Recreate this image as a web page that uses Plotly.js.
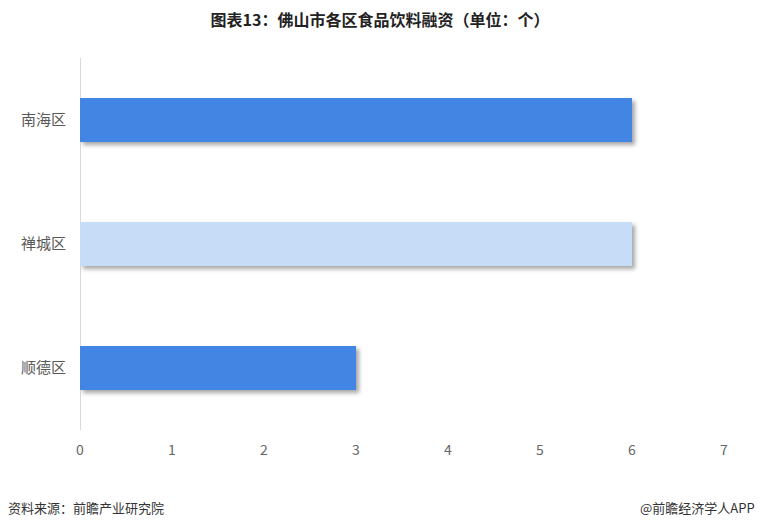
<!DOCTYPE html>
<html><head><meta charset="utf-8">
<script src="https://cdn.plot.ly/plotly-3.0.1.min.js"></script>
<style>html,body{margin:0;padding:0;background:#fff;}#chart{width:760px;height:527px;}</style>
</head><body><div id="chart"></div>
<script>
const categories = ['南海区', '禅城区', '顺德区'];
const values = [6, 6, 3];
const barColors = ['#4285e2', '#c6dcf7', '#4285e2'];
const xTicks = [0, 1, 2, 3, 4, 5, 6, 7];
const titleText = '图表13：佛山市各区食品饮料融资（单位：个）';
const sourceText = '资料来源：前瞻产业研究院';
const brandText = '@前瞻经济学人APP';

const cjk = '"Noto Sans CJK SC", "Noto Sans", sans-serif';

const trace = {
  type: 'bar', orientation: 'h',
  x: values, y: categories,
  marker: {color: barColors, line: {width: 0}},
  width: 0.355,
  hoverinfo: 'none'
};

const layout = {
  width: 760, height: 527,
  margin: {l: 80, r: 36, t: 58, b: 97},
  paper_bgcolor: '#fff', plot_bgcolor: '#fff',
  showlegend: false,
  title: {text: '<b>' + titleText + '</b>', x: 0.5, xanchor: 'center', y: 0.962, yanchor: 'middle',
          font: {family: cjk, size: 16, color: '#222'}},
  xaxis: {range: [0, 7], tickvals: xTicks, ticktext: xTicks.map(String),
          showgrid: false, zeroline: true, zerolinecolor: '#d9d9d9', zerolinewidth: 1,
          showline: false, ticks: '', ticklabelstandoff: 10,
          tickfont: {family: cjk, size: 14, color: '#666'}, fixedrange: true},
  yaxis: {type: 'category', categoryorder: 'array', categoryarray: categories,
          autorange: 'reversed', showgrid: false, zeroline: false, showline: false,
          ticks: '', ticklabelstandoff: 13,
          tickfont: {family: cjk, size: 15, color: '#595959'}, fixedrange: true},
  annotations: [
    {text: sourceText, xref: 'paper', yref: 'paper', x: -0.115, y: -0.207, xanchor: 'left', yanchor: 'middle',
     showarrow: false, font: {family: cjk, size: 13, color: '#333'}},
    {text: brandText, xref: 'paper', yref: 'paper', x: 1.052, y: -0.207, xanchor: 'right', yanchor: 'middle',
     showarrow: false, font: {family: cjk, size: 13, color: '#333'}}
  ]
};

Plotly.newPlot('chart', [trace], layout, {displayModeBar: false, staticPlot: true}).then(function(gd){
  gd.querySelectorAll('.bars path').forEach(function(p){
    p.style.filter = 'drop-shadow(3px 3px 2px rgba(0,0,0,0.35))';
  });
});
</script></body></html>
